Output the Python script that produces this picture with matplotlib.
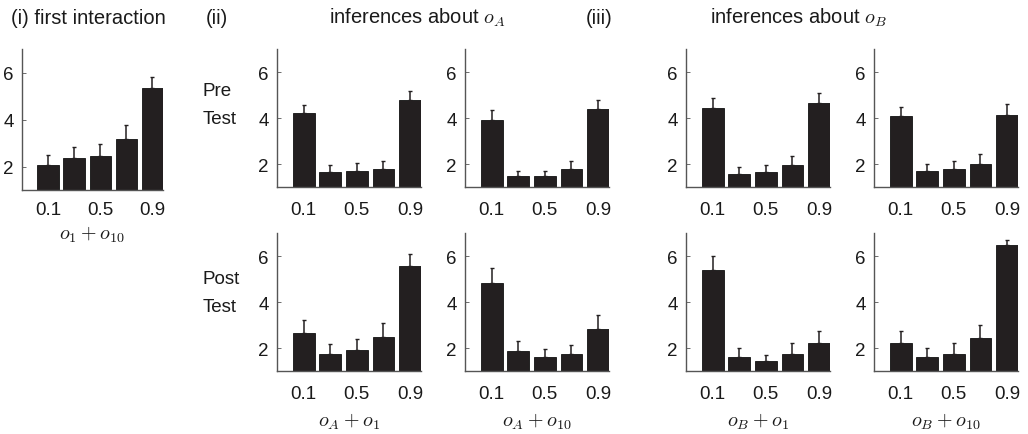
"""
Bar panels: first interaction and pre/post test inferences about o_A and o_B.
"""
import matplotlib
matplotlib.use("Agg")
import matplotlib.pyplot as plt
import numpy as np

plt.rcParams["font.family"] = ["Liberation Sans", "DejaVu Sans"]
plt.rcParams["mathtext.fontset"] = "cm"

# -- data ----------------------------------------------------------------------
tick_labels = ["0.1", "0.5", "0.9"]

first_mean = [2.08, 2.37, 2.46, 3.15, 5.32]
first_err  = [0.39, 0.48, 0.48, 0.62, 0.50]

# inferences about o_A
a1_pre_mean  = [4.20, 1.65, 1.71, 1.77, 4.77]
a1_pre_err   = [0.37, 0.31, 0.33, 0.37, 0.39]
a10_pre_mean = [3.91, 1.47, 1.47, 1.78, 4.40]
a10_pre_err  = [0.44, 0.24, 0.24, 0.36, 0.40]
a1_post_mean  = [2.65, 1.76, 1.93, 2.50, 5.57]
a1_post_err   = [0.58, 0.41, 0.48, 0.57, 0.53]
a10_post_mean = [4.83, 1.87, 1.63, 1.76, 2.83]
a10_post_err  = [0.67, 0.44, 0.33, 0.38, 0.59]

# inferences about o_B
b1_pre_mean  = [4.45, 1.58, 1.65, 1.96, 4.64]
b1_pre_err   = [0.43, 0.30, 0.32, 0.40, 0.43]
b10_pre_mean = [4.09, 1.70, 1.77, 2.01, 4.13]
b10_pre_err  = [0.38, 0.31, 0.35, 0.44, 0.47]
b1_post_mean  = [5.40, 1.63, 1.44, 1.76, 2.20]
b1_post_err   = [0.60, 0.35, 0.26, 0.44, 0.52]
b10_post_mean = [2.20, 1.63, 1.76, 2.44, 6.46]
b10_post_err  = [0.52, 0.39, 0.44, 0.56, 0.23]

# -- figure --------------------------------------------------------------------
W, H = 1028, 435
fig = plt.figure(figsize=(W / 100, H / 100), dpi=100)
fig.patch.set_facecolor("white")

BAR_COLOR = "#231f20"
TXT = "#1a1a1a"
FS_TICK = 13.5
FS_TEXT = 14.5


def add_ax(left, top, right, bottom):
    return fig.add_axes([left / W, 1 - bottom / H, (right - left) / W, (bottom - top) / H])


def bar_panel(ax, means, errs, xlabel=None):
    x = np.arange(1, len(means) + 1)
    ax.bar(x, np.array(means) - 1, bottom=1, width=0.82, color=BAR_COLOR,
           edgecolor="#111111", linewidth=0.6, zorder=2)
    ax.errorbar(x, means, yerr=[np.zeros(len(errs)), errs], fmt="none",
                ecolor=BAR_COLOR, elinewidth=1.1, capsize=1.5, capthick=1, zorder=3)
    ax.set_xlim(0.0, 5.41)
    ax.set_ylim(1, 7)
    ax.set_xticks([1, 3, 5])
    ax.set_xticklabels(tick_labels)
    ax.set_yticks([2, 4, 6])
    ax.tick_params(direction="in", length=3, width=0.6, colors="#555555",
                   labelcolor=TXT, labelsize=FS_TICK)
    ax.tick_params(axis="x", pad=10)
    ax.tick_params(axis="y", pad=6)
    for side in ("top", "right"):
        ax.spines[side].set_visible(False)
    for side in ("left", "bottom"):
        ax.spines[side].set_color("#555555")
        ax.spines[side].set_linewidth(1.0)
    if xlabel:
        ax.set_xlabel(xlabel, fontsize=FS_TEXT, color=TXT, labelpad=6)


# (i) first interaction
ax = add_ax(22, 50, 163, 191)
bar_panel(ax, first_mean, first_err, r"$o_1 + o_{10}$")
ax.tick_params(axis="x", pad=8)
ax.xaxis.labelpad = 4

cols = [277, 465, 686, 874]
width = 144
top_row = (50, 188)
bot_row = (234, 372)

panels = [
    (cols[0], top_row, a1_pre_mean, a1_pre_err, None),
    (cols[1], top_row, a10_pre_mean, a10_pre_err, None),
    (cols[2], top_row, b1_pre_mean, b1_pre_err, None),
    (cols[3], top_row, b10_pre_mean, b10_pre_err, None),
    (cols[0], bot_row, a1_post_mean, a1_post_err, r"$o_A + o_1$"),
    (cols[1], bot_row, a10_post_mean, a10_post_err, r"$o_A + o_{10}$"),
    (cols[2], bot_row, b1_post_mean, b1_post_err, r"$o_B + o_1$"),
    (cols[3], bot_row, b10_post_mean, b10_post_err, r"$o_B + o_{10}$"),
]
for left, (t, b), m, e, lab in panels:
    ax = add_ax(left, t, left + width, b)
    bar_panel(ax, m, e, lab)

# headings
def fig_text(x, y, s, size=FS_TEXT, **kw):
    fig.text(x / W, 1 - y / H, s, fontsize=size, color=TXT, va="center", **kw)

fig_text(11, 18, "(i) first interaction", ha="left")
fig_text(206, 18, "(ii)", ha="left")
fig_text(329, 18, r"inferences about $o_A$", ha="left")
fig_text(586, 18, "(iii)", ha="left")
fig_text(710, 18, r"inferences about $o_B$", ha="left")

fig_text(203, 92, "Pre", ha="left", size=FS_TICK)
fig_text(203, 120, "Test", ha="left", size=FS_TICK)
fig_text(203, 280, "Post", ha="left", size=FS_TICK)
fig_text(203, 308, "Test", ha="left", size=FS_TICK)

plt.savefig("out.png", dpi=100, facecolor=fig.get_facecolor())
plt.close()
